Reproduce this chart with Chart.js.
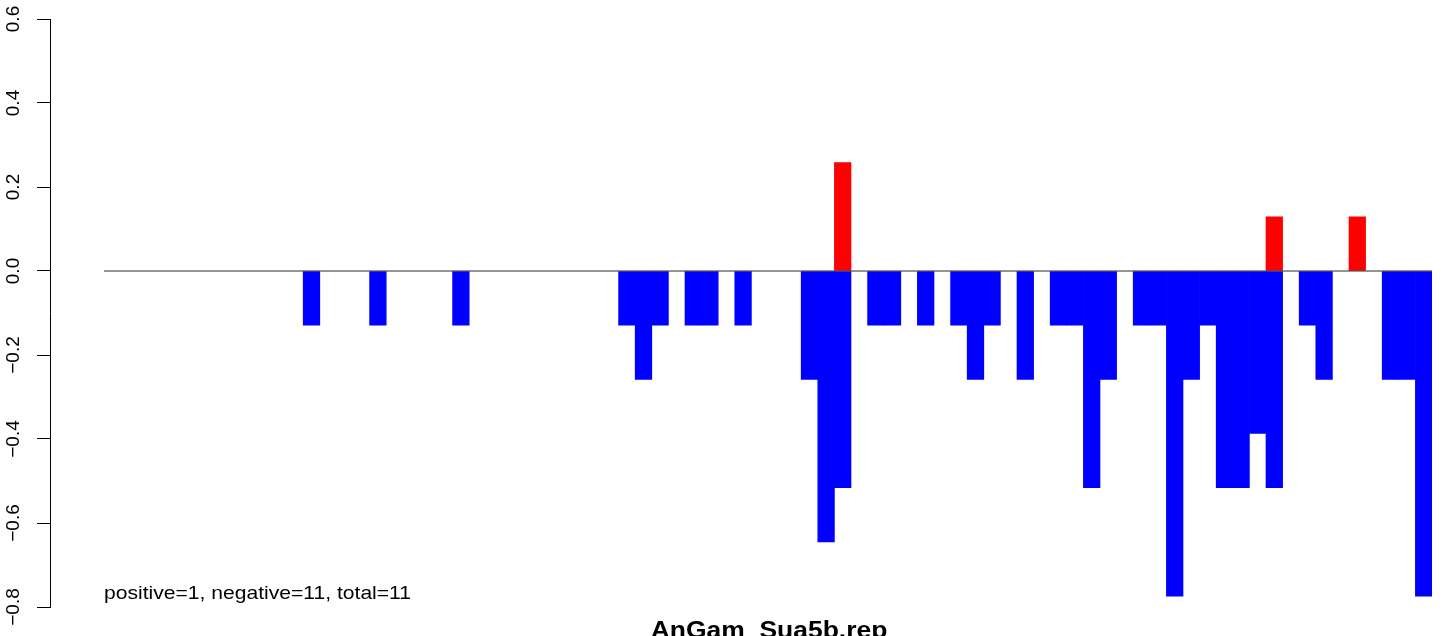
<!doctype html>
<html>
<head>
<meta charset="utf-8">
<title>AnGam_Sua5b.rep</title>
<script src="https://cdn.jsdelivr.net/npm/chart.js@4.4.1/dist/chart.umd.min.js"></script>
<style>
  html, body { margin: 0; padding: 0; background: #fff; }
  .holder { width: 1444px; height: 636px; position: relative; }
</style>
</head>
<body>
<div class="holder">
  <canvas id="chart-area"></canvas>
</div>
<script>
// bar slots 0..79, only the non-empty ones listed
var negPos = [12, 16, 21, 31, 32, 33, 35, 36, 38, 42, 43, 44, 46, 47, 49, 51, 52, 53, 55,
              57, 58, 59, 60, 62, 63, 64, 65, 66, 67, 68, 69, 70, 72, 73, 77, 78, 79];
var negVal = [-0.129, -0.129, -0.129, -0.129, -0.258, -0.129, -0.129, -0.129, -0.129,
              -0.258, -0.645, -0.516, -0.129, -0.129, -0.129, -0.129, -0.258, -0.129, -0.258,
              -0.129, -0.129, -0.516, -0.258, -0.129, -0.129, -0.774, -0.258, -0.129,
              -0.516, -0.516, -0.387, -0.516, -0.129, -0.258, -0.258, -0.258, -0.774];
var posPos = [44, 70, 75];
var posVal = [0.258, 0.129, 0.129];
var nSlots = 80;
var yTicks = [-0.8, -0.6, -0.4, -0.2, 0.0, 0.2, 0.4, 0.6];
var note = 'positive=1, negative=11, total=11';
var mainTitle = 'AnGam_Sua5b.rep';

var FONT = '"Liberation Sans", Arial, Helvetica, sans-serif';

// free text inside the plot and the main title under it
// (the picture is a bit wider than tall, so horizontal text is stretched)
var plotText = {
  id: 'plotText',
  afterDraw: function (chart) {
    var ctx = chart.ctx, x = chart.scales.x, y = chart.scales.y;
    ctx.save();
    ctx.fillStyle = '#000';
    ctx.textBaseline = 'alphabetic';
    ctx.font = '19px ' + FONT;
    ctx.textAlign = 'left';
    ctx.translate(x.getPixelForValue(-0.5), y.getPixelForValue(-0.781));
    ctx.scale(1.11, 1);
    ctx.fillText(note, 0, 0);
    ctx.restore();

    ctx.save();
    ctx.fillStyle = '#000';
    ctx.textBaseline = 'alphabetic';
    ctx.font = 'bold 23px ' + FONT;
    ctx.textAlign = 'center';
    ctx.translate(x.getPixelForValue((nSlots - 1) / 2) + 1, chart.chartArea.bottom + 31);
    ctx.scale(1.15, 1);
    ctx.fillText(mainTitle, 0, 0);
    ctx.restore();
  }
};

function toPoints(pos, vals) {
  return pos.map(function (p, i) { return { x: p, y: vals[i] }; });
}

var ctx = document.getElementById('chart-area').getContext('2d');
new Chart(ctx, {
  type: 'bar',
  data: {
    datasets: [
      {
        type: 'line',
        data: [{ x: -0.5, y: 0 }, { x: nSlots - 0.5, y: 0 }],
        borderColor: '#2a2a2a',
        borderWidth: 1,
        pointRadius: 0,
        order: 0
      },
      {
        data: toPoints(negPos, negVal),
        backgroundColor: '#0000ff',
        borderWidth: 0,
        grouped: false,
        barPercentage: 1,
        categoryPercentage: 1,
        order: 1
      },
      {
        data: toPoints(posPos, posVal),
        backgroundColor: '#ff0000',
        borderWidth: 0,
        grouped: false,
        barPercentage: 1,
        categoryPercentage: 1,
        order: 1
      }
    ]
  },
  options: {
    responsive: true,
    maintainAspectRatio: false,
    animation: false,
    layout: { padding: { top: 19, right: 12, bottom: 29, left: 0 } },
    plugins: { legend: { display: false }, tooltip: { enabled: false } },
    scales: {
      x: {
        type: 'linear',
        display: false,
        offset: false,
        min: -0.5 - 54 / 16.6,
        max: nSlots - 0.5
      },
      y: {
        min: yTicks[0],
        max: yTicks[yTicks.length - 1],
        afterFit: function (scale) { scale.width = 50; },
        afterBuildTicks: function (scale) {
          scale.ticks = yTicks.map(function (v) { return { value: v }; });
        },
        border: { display: true, color: '#000', width: 1 },
        grid: {
          drawOnChartArea: false,
          drawTicks: true,
          tickLength: 13,
          color: '#000',
          tickColor: '#000'
        },
        ticks: {
          minRotation: 90,
          maxRotation: 90,
          crossAlign: 'center',
          padding: 4,
          color: '#000',
          font: { family: FONT, size: 19 },
          callback: function (v) {
            return (v < 0 ? '\u2212' : '') + Math.abs(v).toFixed(1);
          }
        }
      }
    }
  },
  plugins: [plotText]
});
</script>
</body>
</html>
